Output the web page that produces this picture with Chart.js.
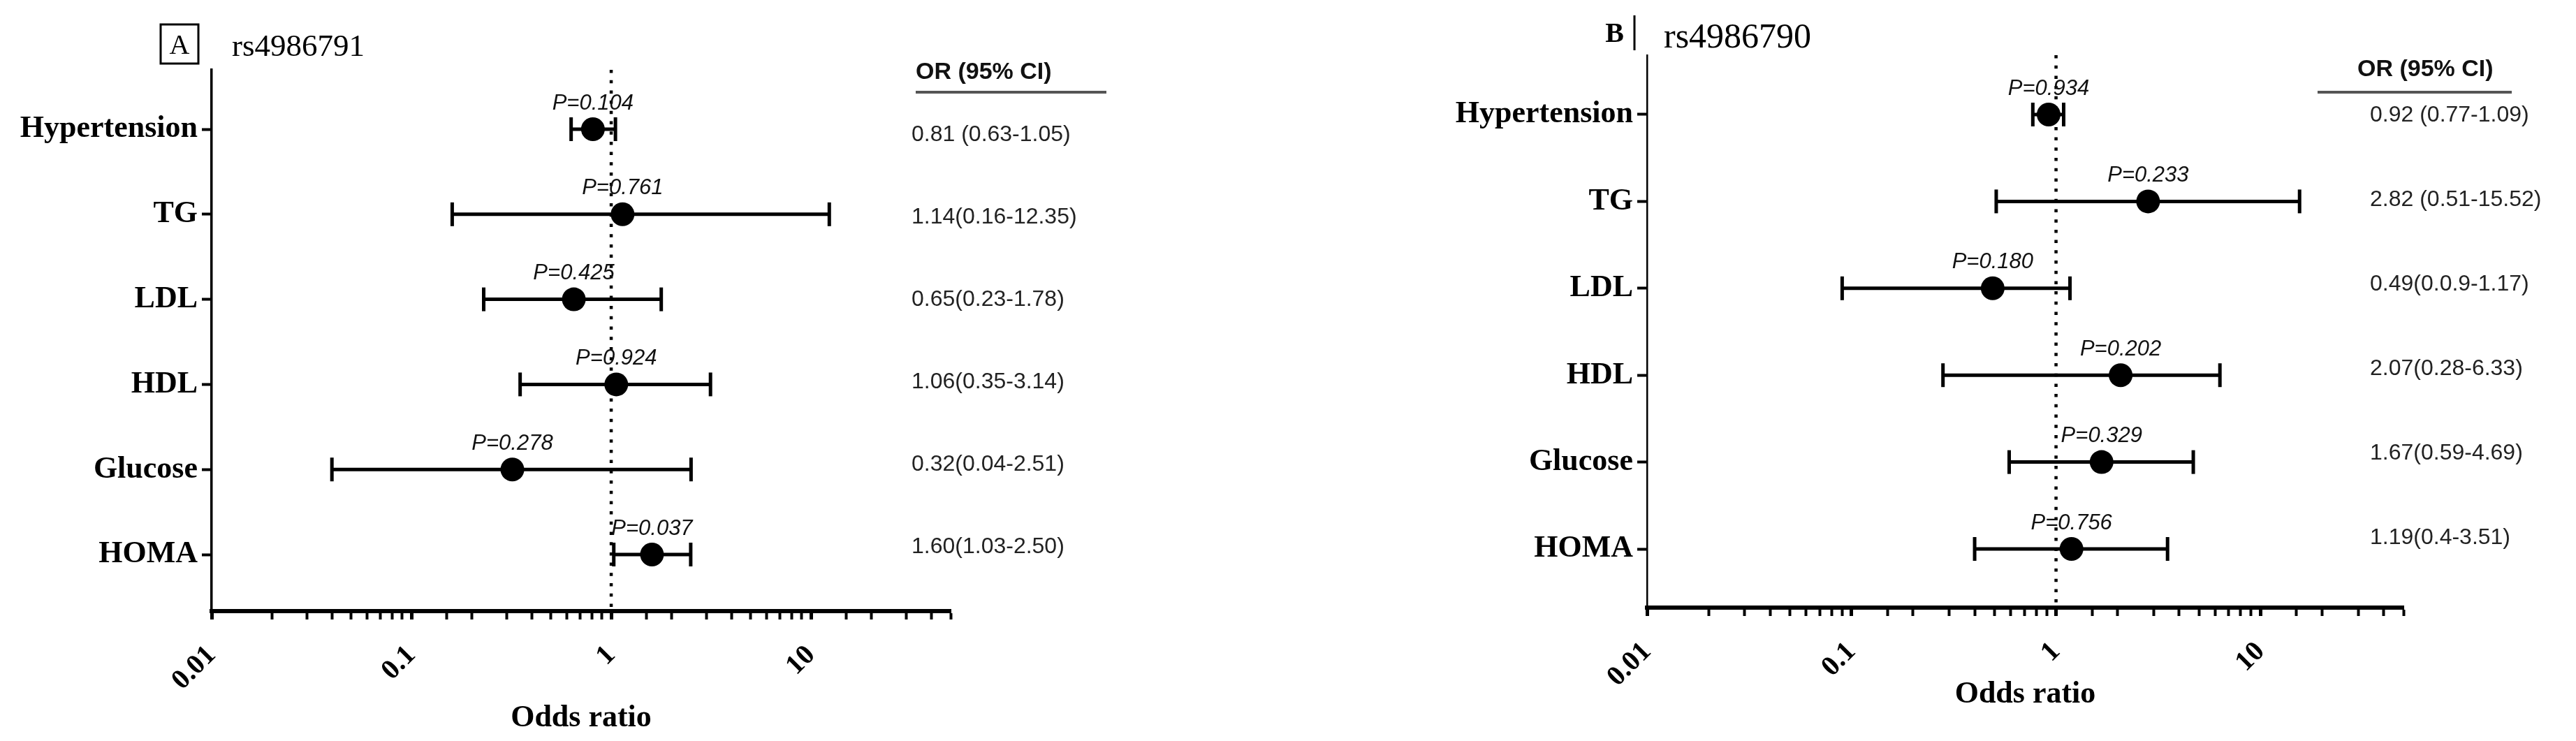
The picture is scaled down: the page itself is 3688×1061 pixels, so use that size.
<!DOCTYPE html>
<html>
<head>
<meta charset="utf-8">
<script src="https://cdn.jsdelivr.net/npm/chart.js@4.4.1/dist/chart.umd.min.js"></script>
<style>
  html, body { margin: 0; padding: 0; background: #fff; }
  #wrap { position: relative; width: 3688px; height: 1061px; }
  canvas { position: absolute; top: 0; }
</style>
</head>
<body>
<div id="wrap">
  <canvas id="chartA" width="1844" height="1061" style="left:0"></canvas>
  <canvas id="chartB" width="1844" height="1061" style="left:1844px"></canvas>
</div>
<script>
// categories on the y axis (top to bottom)
const categories = ['Hypertension', 'TG', 'LDL', 'HDL', 'Glucose', 'HOMA'];
const xTickLabels = [0.01, 0.1, 1, 10];

// A - rs4986791
const orA   = [0.81, 1.14, 0.65, 1.06, 0.32, 1.60];
const lowA  = [0.63, 0.16, 0.23, 0.35, 0.04, 1.03];
const highA = [1.05, 12.35, 1.78, 3.14, 2.51, 2.50];
const pA    = ['P=0.104', 'P=0.761', 'P=0.425', 'P=0.924', 'P=0.278', 'P=0.037'];
const ciA   = ['0.81 (0.63-1.05)', '1.14(0.16-12.35)', '0.65(0.23-1.78)', '1.06(0.35-3.14)', '0.32(0.04-2.51)', '1.60(1.03-2.50)'];

// B - rs4986790
const orB   = [0.92, 2.82, 0.49, 2.07, 1.67, 1.19];
const lowB  = [0.77, 0.51, 0.09, 0.28, 0.59, 0.40];
const highB = [1.09, 15.52, 1.17, 6.33, 4.69, 3.51];
const pB    = ['P=0.934', 'P=0.233', 'P=0.180', 'P=0.202', 'P=0.329', 'P=0.756'];
const ciB   = ['0.92 (0.77-1.09)', '2.82 (0.51-15.52)', '0.49(0.0.9-1.17)', '2.07(0.28-6.33)', '1.67(0.59-4.69)', '1.19(0.4-3.51)'];

const SERIF = '"Liberation Serif", "Times New Roman", serif';
const SANS = '"Liberation Sans", Arial, sans-serif';

// layout of each panel (canvas coordinates)
const panelA = {
  id: 'chartA', or: orA, low: lowA, high: highA, p: pA, ci: ciA,
  letter: 'A', title: 'rs4986791',
  area: { left: 303, right: 1361, top: 100, bottom: 875 },
  xAxisH: 186, titlePad: 6,
  yMin: -0.698, yMax: 5.665, yBorder: 3.5,
  head: { x: 1311, y: 104, lineFrom: 1311, lineTo: 1584, lineY: 132 },
  ciX: 1305, rowOffset: 0.065, rowScale: 0.969
};
const panelB = {
  id: 'chartB', or: orB, low: lowB, high: highB, p: pB, ci: ciB,
  letter: 'B', title: 'rs4986790',
  area: { left: 514, right: 1597, top: 79, bottom: 870 },
  xAxisH: 170, titlePad: 19,
  yMin: -0.683, yMax: 5.675, yBorder: 2.5,
  head: { x: 1531, y: 100, lineFrom: 1474, lineTo: 1752, lineY: 132 },
  ciX: 1549, rowOffset: 0.008, rowScale: 0.973
};

function textPlugin(cfg) {
  return {
    id: 'forestText' + cfg.letter,
    afterDatasetsDraw(chart) {
      const { ctx, scales: { x, y } } = chart;
      ctx.save();
      ctx.fillStyle = '#111';
      // P values above each point
      ctx.font = 'italic 31px ' + SANS;
      ctx.textAlign = 'center';
      ctx.textBaseline = 'middle';
      cfg.or.forEach((v, i) => {
        ctx.fillText(cfg.p[i], x.getPixelForValue(v), y.getPixelForValue(i) - 37);
      });
      // OR (95% CI) column
      ctx.textAlign = 'left';
      ctx.font = 'bold 34px ' + SANS;
      ctx.fillText('OR (95% CI)', cfg.head.x, cfg.head.y);
      ctx.strokeStyle = '#555';
      ctx.lineWidth = 4;
      ctx.beginPath();
      ctx.moveTo(cfg.head.lineFrom, cfg.head.lineY);
      ctx.lineTo(cfg.head.lineTo, cfg.head.lineY);
      ctx.stroke();
      ctx.font = '32px ' + SANS;
      ctx.fillStyle = '#222';
      cfg.ci.forEach((t, i) => {
        ctx.fillText(t, cfg.ciX, y.getPixelForValue(cfg.rowOffset + cfg.rowScale * i));
      });
      // panel letter and title
      ctx.fillStyle = '#000';
      ctx.strokeStyle = '#000';
      ctx.lineWidth = 3;
      ctx.textBaseline = 'alphabetic';
      if (cfg.letter === 'A') {
        ctx.strokeRect(230, 35, 54, 56);
        ctx.textAlign = 'center';
        ctx.font = '40px ' + SERIF;
        ctx.fillText('A', 257, 77);
        ctx.textAlign = 'left';
        ctx.font = '45px ' + SERIF;
        ctx.fillText(cfg.title, 332, 80);
      } else {
        ctx.textAlign = 'right';
        ctx.font = 'bold 40px ' + SERIF;
        ctx.fillText('B', 481, 60);
        ctx.beginPath();
        ctx.moveTo(496, 22);
        ctx.lineTo(496, 72);
        ctx.stroke();
        ctx.textAlign = 'left';
        ctx.font = '50px ' + SERIF;
        ctx.fillText(cfg.title, 538, 68);
      }
      ctx.restore();
    }
  };
}

function makeForest(cfg) {
  const whiskers = categories.map((c, i) => ({
    label: c,
    data: [{ x: cfg.low[i], y: i }, { x: cfg.high[i], y: i }],
    showLine: true,
    borderColor: '#000',
    borderWidth: 5,
    pointStyle: 'line',
    pointRotation: 90,
    pointRadius: 17,
    pointBorderWidth: 5,
    pointBorderColor: '#000',
    order: 3
  }));
  const refLine = {
    label: 'OR = 1',
    data: [{ x: 1, y: cfg.yMin }, { x: 1, y: cfg.yMax }],
    showLine: true,
    borderColor: '#000',
    borderWidth: 4.5,
    borderDash: [4.5, 10.2],
    pointRadius: 0,
    order: 2
  };
  const points = {
    label: 'OR',
    data: cfg.or.map((v, i) => ({ x: v, y: i })),
    pointRadius: 17,
    pointBackgroundColor: '#000',
    pointBorderWidth: 0,
    order: 1
  };

  const a = cfg.area;
  return new Chart(document.getElementById(cfg.id), {
    type: 'scatter',
    data: { datasets: [...whiskers, refLine, points] },
    options: {
      responsive: false,
      animation: false,
      layout: { padding: { left: 0, top: a.top, right: 1844 - a.right, bottom: 1061 - a.bottom - cfg.xAxisH } },
      plugins: { legend: { display: false }, tooltip: { enabled: false } },
      scales: {
        x: {
          type: 'logarithmic',
          min: 0.01,
          max: 50,
          afterFit: s => { s.height = cfg.xAxisH; },
          border: { display: true, color: '#000', width: 6 },
          grid: {
            display: true, drawOnChartArea: false, drawTicks: true,
            tickLength: 12, color: '#000', tickColor: '#000',
            tickWidth: c => (xTickLabels.includes(c.tick && c.tick.value) ? 5 : 4)
          },
          ticks: {
            autoSkip: false, minRotation: 45, maxRotation: 45, padding: 28,
            color: '#000', font: { family: SERIF, size: 40, weight: 'bold' },
            callback: v => (xTickLabels.includes(v) ? String(v) : '')
          },
          title: {
            display: true, text: 'Odds ratio', color: '#000',
            font: { family: SERIF, size: 44, weight: 'bold' },
            padding: { top: 0, bottom: cfg.titlePad }
          }
        },
        y: {
          type: 'linear',
          reverse: true,
          min: cfg.yMin,
          max: cfg.yMax,
          afterBuildTicks: s => { s.ticks = categories.map((c, i) => ({ value: i })); },
          afterFit: s => { s.width = a.left; },
          border: { display: true, color: '#000', width: cfg.yBorder },
          grid: { drawOnChartArea: false, tickLength: 14, tickWidth: 4, color: '#000', tickColor: '#000' },
          ticks: {
            autoSkip: false, padding: 6, color: '#000',
            font: { family: SERIF, size: 44, weight: 'bold' },
            callback: v => categories[v] ?? ''
          }
        }
      }
    },
    plugins: [textPlugin(cfg)]
  });
}

makeForest(panelA);
makeForest(panelB);
</script>
</body>
</html>
